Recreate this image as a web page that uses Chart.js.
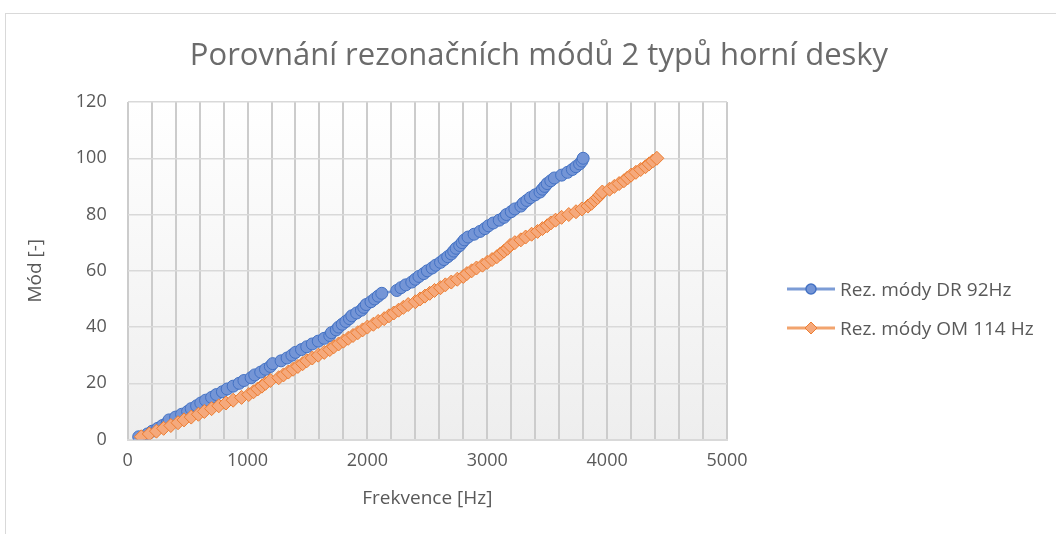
<!DOCTYPE html>
<html>
<head>
<meta charset="utf-8">
<script src="https://cdn.jsdelivr.net/npm/chart.js@4.4.0/dist/chart.umd.min.js"></script>
<style>
  body { margin: 0; background: #fff; overflow: hidden; }
  #frame { position: absolute; left: 5px; top: 13px; width: 1100px; height: 600px; border: 1px solid #d9d9d9; }
  #wrap { position: absolute; left: 0; top: 0; width: 1056px; height: 534px; }
  #title { position: absolute; left: 0; top: 35px; width: 1078px; text-align: center; font-family: "Open Sans", sans-serif; font-size: 31px; line-height: 36px; color: #6b6b6b; white-space: nowrap; }
  #legend { position: absolute; left: 787px; top: 269px; font-family: "Open Sans", sans-serif; font-size: 19px; color: #595959; }
  #legend .row { display: flex; align-items: center; height: 39px; white-space: nowrap; }
  #legend svg { margin-right: 5px; }
</style>
</head>
<body>
<div id="frame"></div>
<div id="wrap"><canvas id="myChart" width="1056" height="534"></canvas></div>
<div id="title"></div>
<div id="legend"></div>
<script>
const chartTitle = 'Porovnání rezonačních módů 2 typů horní desky';
const xTitle = 'Frekvence [Hz]';
const yTitle = 'Mód [-]';
const seriesNames = ['Rez. módy DR 92Hz', 'Rez. módy OM 114 Hz'];

// mode numbers (y)
const modes = [1,2,3,4,5,6,7,8,9,10,11,12,13,14,15,16,17,18,19,20,
  21,22,23,24,25,26,27,28,29,30,31,32,33,34,35,36,37,38,39,40,
  41,42,43,44,45,46,47,48,49,50,51,52,53,54,55,56,57,58,59,60,
  61,62,63,64,65,66,67,68,69,70,71,72,73,74,75,76,77,78,79,80,
  81,82,83,84,85,86,87,88,89,90,91,92,93,94,95,96,97,98,99,100];

// frequencies [Hz]
const freqDR = [92,165,205,250,290,330,345,400,450,500,530,575,610,650,700,740,790,830,880,930,
  970,1030,1060,1110,1150,1190,1210,1280,1330,1370,1400,1450,1494,1540,1590,1640,1686,1700,1740,1760,
  1790,1820,1850,1870,1910,1950,1970,1990,2030,2060,2090,2120,2245,2280,2320,2370,2400,2430,2470,2500,
  2540,2570,2610,2640,2670,2700,2720,2740,2770,2790,2810,2840,2890,2940,2980,3010,3050,3100,3140,3160,
  3200,3230,3280,3300,3330,3360,3400,3440,3460,3480,3500,3530,3560,3620,3670,3710,3740,3770,3790,3800];

const freqOM = [114,180,240,300,360,420,470,530,590,640,700,760,820,880,950,1010,1050,1085,1120,1150,
  1190,1260,1300,1340,1380,1420,1460,1494,1540,1590,1640,1686,1720,1760,1800,1840,1880,1920,1960,2000,
  2050,2090,2140,2180,2220,2260,2300,2340,2400,2440,2480,2520,2560,2610,2650,2700,2750,2800,2830,2870,
  2910,2960,3000,3040,3080,3110,3140,3170,3190,3230,3280,3320,3370,3420,3460,3500,3530,3570,3620,3680,
  3740,3790,3840,3870,3895,3920,3940,3960,4020,4060,4100,4140,4170,4200,4240,4280,4320,4350,4380,4415];

const xTicks = [0, 1000, 2000, 3000, 4000, 5000];

const textColor = '#595959';
const font = '"Open Sans", sans-serif';

const plotBg = {
  id: 'plotBg',
  beforeDraw(chart) {
    const { ctx, chartArea: a } = chart;
    const g = ctx.createLinearGradient(0, a.top, 0, a.bottom);
    g.addColorStop(0, '#ffffff');
    g.addColorStop(1, '#eeeeee');
    ctx.save();
    ctx.fillStyle = g;
    ctx.fillRect(a.left, a.top, a.right - a.left, a.bottom - a.top);
    ctx.restore();
  }
};

const datasets = [{
  label: seriesNames[0],
  data: freqDR.map((f, i) => ({ x: f, y: modes[i] })),
  showLine: true,
  borderColor: 'rgba(68,114,196,0.7)',
  borderWidth: 2.5,
  pointStyle: 'circle',
  pointRadius: 6,
  pointBackgroundColor: '#7495d6',
  pointBorderColor: '#4472c4',
  pointBorderWidth: 1,
  order: 1
}, {
  label: seriesNames[1],
  data: freqOM.map((f, i) => ({ x: f, y: modes[i] })),
  showLine: true,
  borderColor: 'rgba(237,125,49,0.7)',
  borderWidth: 2.5,
  pointStyle: 'rectRot',
  pointRadius: 7,
  pointBackgroundColor: '#f5a97c',
  pointBorderColor: '#ed7d31',
  pointBorderWidth: 1,
  order: 0
}];

document.getElementById('title').textContent = chartTitle;

const ctx = document.getElementById('myChart').getContext('2d');
const myChart = new Chart(ctx, {
  type: 'scatter',
  data: { datasets: datasets },
  plugins: [plotBg],
  options: {
    responsive: false,
    animation: false,
    layout: { padding: { left: 20, right: 329, top: 102, bottom: 20 } },
    plugins: {
      legend: { display: false },
      tooltip: { enabled: false },
      title: { display: false }
    },
    scales: {
      x: {
        type: 'linear',
        min: 0,
        max: 5000,
        afterBuildTicks(axis) {
          const t = [];
          for (let v = 0; v <= 5000; v += 200) t.push({ value: v });
          axis.ticks = t;
        },
        ticks: {
          autoSkip: false,
          maxRotation: 0,
          padding: 10,
          color: textColor,
          font: { family: font, size: 18 },
          callback: v => xTicks.includes(v) ? v : ''
        },
        grid: { color: '#cccccc', lineWidth: 2, drawTicks: false },
        border: { color: '#d9d9d9', width: 2 },
        title: { display: true, text: xTitle, color: textColor, font: { family: font, size: 19 }, padding: { top: 6 } }
      },
      y: {
        min: 0,
        max: 120,
        ticks: {
          stepSize: 20,
          padding: 21,
          color: textColor,
          font: { family: font, size: 18 }
        },
        grid: { color: '#d9d9d9', lineWidth: 1.5, drawTicks: false },
        border: { display: false },
        title: { display: true, text: yTitle, color: textColor, font: { family: font, size: 19 }, padding: { bottom: 8 } }
      }
    }
  }
});

// legend with line + marker like the original
const legend = document.getElementById('legend');
datasets.forEach(ds => {
  const row = document.createElement('div');
  row.className = 'row';
  let marker;
  if (ds.pointStyle === 'circle') {
    marker = '<circle cx="24" cy="8" r="5" fill="' + ds.pointBackgroundColor + '" stroke="' + ds.pointBorderColor + '" stroke-width="1.5"/>';
  } else {
    marker = '<polygon points="24,2 30,8 24,14 18,8" fill="' + ds.pointBackgroundColor + '" stroke="' + ds.pointBorderColor + '" stroke-width="1"/>';
  }
  row.innerHTML = '<svg width="48" height="16"><line x1="0" y1="8" x2="48" y2="8" stroke="' + ds.borderColor + '" stroke-width="3"/>' + marker + '</svg><span>' + ds.label + '</span>';
  legend.appendChild(row);
});
</script>
</body>
</html>
